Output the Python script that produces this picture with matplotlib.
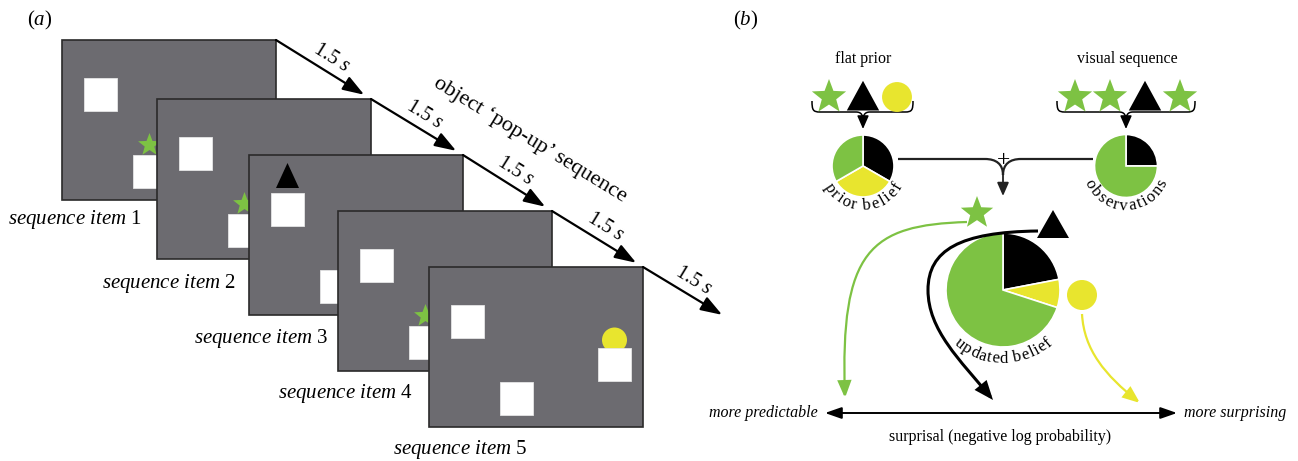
import numpy as np
import matplotlib
matplotlib.use('Agg')
import matplotlib.pyplot as plt
from matplotlib.patches import Rectangle, Polygon, Circle, FancyArrowPatch, PathPatch
from matplotlib.path import Path
from matplotlib.font_manager import FontProperties, findfont, get_font

plt.rcParams['font.family'] = ['Liberation Serif', 'DejaVu Serif']
plt.rcParams['mathtext.fontset'] = 'custom'
plt.rcParams['mathtext.rm'] = 'Liberation Serif'
plt.rcParams['mathtext.it'] = 'Liberation Serif:italic'

# ---------------- data ----------------
sequence_items = ['star', 'star', 'triangle', 'star', 'circle']
item_numbers = ['1', '2', '3', '4', '5']
interval_text = '1.5'
flat_prior_shapes = ['star', 'triangle', 'circle']
visual_sequence = ['star', 'star', 'triangle', 'star']
pie_categories = ['triangle', 'circle', 'star']
prior_fracs = [1/3, 1/3, 1/3]
observation_fracs = [0.25, 0.0, 0.75]
updated_fracs = [0.22, 0.08, 0.70]

# ---------------- style ----------------
GREEN = '#7dc243'
YELLOW = '#e8e52e'
GRAY = '#6c6b70'
BLACK = '#000000'
shape_color = {'star': GREEN, 'triangle': BLACK, 'circle': YELLOW}

DPI = 100
fig = plt.figure(figsize=(12.98, 4.61), dpi=DPI)
ax = fig.add_axes([0, 0, 1, 1])


def reset():
    ax.set_aspect('auto')
    ax.set_xlim(0, 1298)
    ax.set_ylim(461, 0)
    ax.axis('off')


reset()


def star(cx, cy, r, color, z, ratio=0.42):
    pts = []
    for k in range(10):
        a = np.pi / 2 + k * np.pi / 5
        rr = r if k % 2 == 0 else r * ratio
        pts.append((cx + rr * np.cos(a), cy - rr * np.sin(a)))
    ax.add_patch(Polygon(pts, closed=True, fc=color, ec='none', zorder=z))


def triangle(cx, top, bottom, hw, color, z):
    ax.add_patch(Polygon([(cx, top), (cx + hw, bottom), (cx - hw, bottom)],
                         closed=True, fc=color, ec='none', zorder=z))


def draw_shape(name, cx, cy, size, z):
    if name == 'star':
        star(cx, cy, size, GREEN, z)
    elif name == 'triangle':
        triangle(cx, cy - size * 0.9, cy + size * 0.75, size * 0.9, BLACK, z)
    else:
        ax.add_patch(Circle((cx, cy), size * 0.83, fc=YELLOW, ec='none', zorder=z))


def arrow_path(verts, codes, color, lw, hl, hw, z, style='-|>'):
    p = Path(verts, codes)
    a = FancyArrowPatch(path=p, arrowstyle=f'{style},head_length={hl},head_width={hw}',
                        mutation_scale=10, color=color, lw=lw, zorder=z,
                        shrinkA=0, shrinkB=0, joinstyle='miter', capstyle='butt')
    ax.add_patch(a)


# ---------------- panel (a) ----------------
ax.text(40, 20, r'($\mathit{a}$)', fontsize=15, ha='center', va='center')

screen_x = [62, 157, 249, 338, 429]
screen_y = [40, 99, 155, 211, 267]
SW, SH = 214, 160
SQ = 33
slots = {'A': (22, 38), 'B': (71, 115), 'C': (169, 81)}
obj_slot = {'star': 'B', 'triangle': 'A', 'circle': 'C'}
label_x = [8, 102, 194, 278, 393]
label_y = [219, 283, 338, 393, 449]

for i, item in enumerate(sequence_items):
    x0, y0 = screen_x[i], screen_y[i]
    z = 10 + 5 * i
    ax.add_patch(Rectangle((x0, y0), SW, SH, fc=GRAY, ec='#2a2a2a', lw=1.2, zorder=z))
    sx, sy = slots[obj_slot[item]]
    cxo = x0 + sx + SQ / 2
    top = y0 + sy
    if item == 'star':
        star(cxo, top - 10, 12, GREEN, z + 1)
    elif item == 'triangle':
        triangle(cxo, top - 30, top - 5, 11.5, BLACK, z + 1)
    else:
        ax.add_patch(Circle((cxo, top - 8), 12.5, fc=YELLOW, ec='none', zorder=z + 1))
    for key, (ox, oy) in slots.items():
        ax.add_patch(Rectangle((x0 + ox, y0 + oy), SQ, SQ, fc='white', ec='#e6e6e6',
                               lw=0.6, zorder=z + 2))
    ax.text(label_x[i], label_y[i], r'$\mathit{sequence\ item}$ ' + item_numbers[i],
            fontsize=15, ha='left', va='center', zorder=60)

# timing arrows
for i in range(len(sequence_items)):
    sx0, sy0 = screen_x[i] + SW, screen_y[i]
    if i < len(sequence_items) - 1:
        ex, ey = screen_x[i + 1] + SW, screen_y[i + 1]
    else:
        ex, ey = sx0 + 86, sy0 + 52
    d = np.array([ex - sx0, ey - sy0], float)
    L = np.hypot(*d)
    u = d / L
    end = np.array([sx0, sy0]) + u * (L - 8)
    ax.add_patch(FancyArrowPatch((sx0, sy0), tuple(end),
                                 arrowstyle='-|>,head_length=1.3,head_width=0.45',
                                 mutation_scale=10, color=BLACK, lw=1.6, zorder=70,
                                 shrinkA=0, shrinkB=0))
    mid = np.array([sx0, sy0]) + d / 2
    perp = np.array([u[1], -u[0]])
    pos = mid + perp * 14
    ang = -np.degrees(np.arctan2(d[1], d[0]))
    ax.text(pos[0], pos[1], interval_text + r' $\mathit{s}$', fontsize=14.5,
            rotation=ang, rotation_mode='anchor', ha='center', va='center', zorder=70)

ax.text(530, 140, 'object ‘pop-up’ sequence', fontsize=16, rotation=-31.5,
        rotation_mode='anchor', ha='center', va='center', zorder=70)

# ---------------- panel (b) ----------------
ax.text(746, 20, r'($\mathit{b}$)', fontsize=15, ha='center', va='center')
ax.text(863, 59, 'flat prior', fontsize=11.5, ha='center', va='center')
ax.text(1127, 59, 'visual sequence', fontsize=11.5, ha='center', va='center')

for k, s in enumerate(flat_prior_shapes):
    draw_shape(s, 829 + 34 * k, 97, 18, 5)
for k, s in enumerate(visual_sequence):
    draw_shape(s, 1075 + 35 * k, 97, 18, 5)


def brace(x_left, x_right, x_tip, y_top, y_bar, y_tip):
    M, C, Lc = Path.MOVETO, Path.CURVE4, Path.LINETO
    verts = [(x_left, y_top), (x_left, y_bar - 2), (x_left + 1, y_bar), (x_left + 8, y_bar),
             (x_tip - 7, y_bar), (x_tip - 1, y_bar), (x_tip, y_bar + 4), (x_tip, y_tip),
             (x_right, y_top), (x_right, y_bar - 2), (x_right - 1, y_bar), (x_right - 8, y_bar),
             (x_tip + 7, y_bar), (x_tip + 1, y_bar), (x_tip, y_bar + 4), (x_tip, y_tip)]
    codes = [M, C, C, C, Lc, C, C, C, M, C, C, C, Lc, C, C, C]
    ax.add_patch(PathPatch(Path(verts, codes), fc='none', ec=BLACK, lw=1.1, zorder=4))
    ax.add_patch(FancyArrowPatch((x_tip, y_tip - 2), (x_tip, y_tip + 8),
                                 arrowstyle='-|>,head_length=0.8,head_width=0.35',
                                 mutation_scale=10, color=BLACK, lw=1.1, shrinkA=0, shrinkB=0,
                                 zorder=4))


brace(812, 913, 863, 101, 112, 121)
brace(1057, 1195, 1126, 101, 112, 121)

cat_color = [shape_color[c] for c in pie_categories]


def pie(fracs, cx, cy, r):
    vals = [f for f in fracs if f > 0]
    cols = [c for f, c in zip(fracs, cat_color) if f > 0]
    ax.pie(vals, colors=cols, center=(cx, cy), radius=r, startangle=-90,
           counterclock=True, wedgeprops=dict(edgecolor='white', linewidth=1.2))
    reset()


pie(prior_fracs, 863, 166, 31)
pie(observation_fracs, 1126, 166, 31.5)
pie(updated_fracs, 1003, 290, 57)


def advances(s, fs):
    fp = FontProperties(family='Liberation Serif', size=fs)
    font = get_font(findfont(fp))
    font.set_size(fs, DPI)
    return np.array([font.load_char(ord(ch)).linearHoriAdvance / 65536 for ch in s])


def arc_text(cx, cy, R, s, fs, track=0.0):
    adv = advances(s, fs) + track
    W = adv.sum()
    centers = np.cumsum(adv) - adv / 2 - W / 2
    for ch, c in zip(s, centers):
        if ch == ' ':
            continue
        phi = c / (R - 4)
        x = cx + R * np.sin(phi)
        y = cy + R * np.cos(phi)
        ax.text(x, y, ch, fontsize=fs, rotation=np.degrees(phi), rotation_mode='anchor',
                ha='center', va='baseline', zorder=6)


arc_text(863, 166, 44, 'prior belief', 12, track=1.2)
arc_text(1126, 166, 44, 'observations', 12, track=1.2)
arc_text(1003, 290, 73, 'updated belief', 12, track=0.6)

# join "+"
M, C, Lc = Path.MOVETO, Path.CURVE4, Path.LINETO
join = Path([(898, 159), (985, 159), (996, 159), (1003, 164), (1003, 175),
             (1093, 159), (1021, 159), (1010, 159), (1003, 164), (1003, 175)],
            [M, Lc, C, C, C, M, Lc, C, C, C])
ax.add_patch(PathPatch(join, fc='none', ec='#222222', lw=1.6, zorder=4))
ax.add_patch(FancyArrowPatch((1003, 172), (1003, 196),
                             arrowstyle='-|>,head_length=0.8,head_width=0.35',
                             mutation_scale=10, color='#222222', lw=1.3, shrinkA=0, shrinkB=0))
ax.text(1004, 161, '+', fontsize=17, ha='center', va='center')

# predicted next-object shapes around updated belief
star(977, 213, 17, GREEN, 8)
triangle(1053, 210, 238, 16, BLACK, 8)
ax.add_patch(Circle((1082, 295), 15, fc=YELLOW, ec='none', zorder=8))

# curves to surprisal axis
arrow_path([(967, 222), (870, 225), (840, 250), (845, 398)], [M, C, C, C],
           GREEN, 1.6, 1.0, 0.4, 7)
arrow_path([(1038, 231), (960, 232), (928, 250), (928, 290), (928, 330), (960, 360), (993, 400)],
           [M, C, C, C, C, C, C], BLACK, 2.2, 1.0, 0.4, 7)
arrow_path([(1082, 314), (1084, 350), (1105, 375), (1140, 403)], [M, C, C, C],
           YELLOW, 1.6, 1.0, 0.4, 7)

# surprisal axis
ax.add_patch(FancyArrowPatch((825, 413), (1177, 413),
                             arrowstyle='<|-|>,head_length=1.0,head_width=0.35',
                             mutation_scale=10, color=BLACK, lw=1.4, shrinkA=0, shrinkB=0))
ax.text(818, 413, 'more predictable', fontsize=11.5, style='italic', ha='right', va='center')
ax.text(1184, 413, 'more surprising', fontsize=11.5, style='italic', ha='left', va='center')
ax.text(1000, 437, 'surprisal (negative log probability)', fontsize=11.5,
        ha='center', va='center')

fig.savefig('out.png', dpi=DPI)
